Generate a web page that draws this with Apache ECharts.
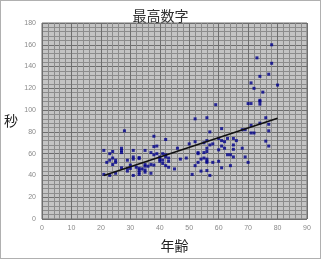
<!DOCTYPE html>
<html>
<head>
<meta charset="utf-8">
<script src="https://cdn.jsdelivr.net/npm/echarts@6/dist/echarts.min.js"></script>
<style>
	html, body { margin: 0; padding: 0; background: #fff; }
	#main { width: 319px; height: 257px; border: 1px solid #b0b0b0; }
</style>
</head>
<body>
<div id="main"></div>
<script>
//年齢と秒のデータ
var ages = [21, 21, 22, 23, 23, 23, 24, 24, 24, 25, 25, 25, 27, 27, 27, 27, 28, 29, 29, 29, 30, 30,
	31, 31, 31, 31, 32, 33, 33, 33, 33, 33, 33, 34, 35, 35, 35, 35, 35, 36, 37, 37, 37,
	38, 38, 38, 38, 39, 39, 40, 40, 40, 41, 41, 41, 42, 42, 42, 42, 43, 43, 43, 45, 46, 47, 49,
	50, 51, 52, 52, 52, 53, 53, 53, 54, 54, 55, 55, 55, 56, 56, 56, 56, 56, 56, 56, 56,
	57, 57, 57, 58, 58, 59, 60, 60, 60, 61, 61, 61, 61, 62, 62, 63, 63, 64, 64,
	65, 65, 65, 65, 66, 68, 68, 69, 69, 70, 70, 71, 71, 71, 71, 72, 72, 73,
	74, 74, 74, 74, 74, 75, 76, 76, 77, 77, 77, 77, 78, 78, 80];
var seconds = [41, 63, 52, 60, 54, 40, 62, 56, 50, 54, 52, 42, 65, 63, 61, 47, 81, 54, 46.5, 44, 49.5, 46.5,
	63, 57, 55, 40, 47.5, 56.5, 55.5, 46.5, 45, 43, 41, 46, 63, 50, 48.5, 45, 43, 48.5, 61, 50, 42,
	76, 66.5, 59, 49.5, 67, 60, 57, 55, 53, 60, 54, 51, 73, 59, 57, 49, 56, 53, 47.5, 46, 65, 55, 56,
	69, 41, 92, 71, 49, 61, 60, 52, 55, 44, 70, 61, 56, 93, 72, 65, 62, 55, 53, 52, 44.5,
	80, 68, 40, 69, 52, 105, 74, 63.5, 53, 83, 72, 67, 47, 71, 65, 74, 59, 59, 49,
	74, 68, 64, 57, 72, 82, 65, 82, 57, 106, 52, 125, 106, 86, 79, 120, 79, 148,
	131, 109, 108, 105.5, 88, 116.5, 93, 71.5, 133, 87, 81, 67, 160, 143, 123];
//近似直線の端点
var trendX = [21, 80];
var trendY = [40, 92.5];

(function() {
	var points = [];
	for (var i = 0; i < ages.length; i++) {
		points.push([ages[i], seconds[i]]);
	}
	var trend = [];
	for (var j = 0; j < trendX.length; j++) {
		trend.push([trendX[j], trendY[j]]);
	}

	var font = '"Noto Sans CJK JP", sans-serif';
	var label = { color: '#8a8a8a', fontSize: 7, fontFamily: 'Arial, sans-serif', margin: 6 };
	var major = { show: true, lineStyle: { color: '#6e6e6e', width: 1 } };
	var minor = { show: true, lineStyle: { color: '#8c8c8c', width: 1 } };

	var myChart = echarts.init(document.getElementById('main'));
	myChart.setOption({
		backgroundColor: '#fff',
		animation: false,
		title: {
			text: '最高数字',
			left: 'center',
			top: 3,
			textStyle: { fontFamily: font, fontSize: 14, fontWeight: 'normal', color: '#333' }
		},
		grid: {
			left: 38, right: 13, top: 22, bottom: 32,
			show: true,
			backgroundColor: '#c4c4c4',
			borderColor: '#6e6e6e',
			borderWidth: 1
		},
		xAxis: {
			type: 'value',
			min: 0, max: 90, interval: 10,
			name: '年齢',
			nameLocation: 'middle',
			nameGap: 20,
			nameTextStyle: { fontFamily: font, fontSize: 14, color: '#222' },
			axisLine: { show: false },
			axisTick: { show: false },
			axisLabel: label,
			splitLine: major,
			minorTick: { show: false, splitNumber: 5 },
			minorSplitLine: minor
		},
		yAxis: {
			type: 'value',
			min: 0, max: 180, interval: 20,
			name: '秒',
			nameLocation: 'middle',
			nameGap: 24,
			nameRotate: 0,
			nameTextStyle: { fontFamily: font, fontSize: 14, color: '#222' },
			axisLine: { show: false },
			axisTick: { show: false },
			axisLabel: label,
			splitLine: major,
			minorTick: { show: false, splitNumber: 5 },
			minorSplitLine: minor
		},
		series: [{
			type: 'scatter',
			data: points,
			symbol: 'rect',
			symbolSize: 3,
			itemStyle: { color: '#00008b' }
		}, {
			type: 'line',
			data: trend,
			symbol: 'none',
			lineStyle: { color: '#111', width: 1.5 }
		}]
	});
})();
</script>
</body>
</html>
